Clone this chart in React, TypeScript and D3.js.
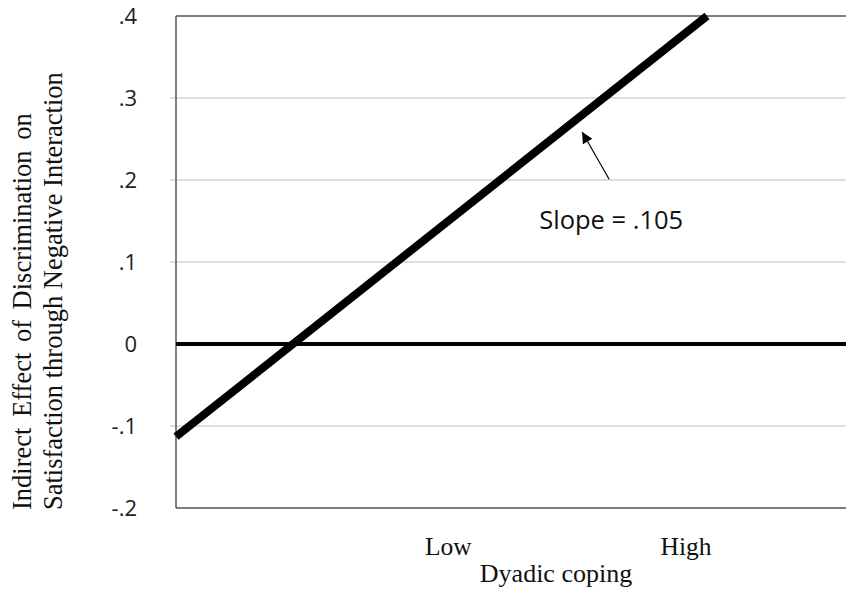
import React from 'react';
import * as d3 from 'd3';

// values
const yTicks = [-0.2, -0.1, 0, 0.1, 0.2, 0.3, 0.4];
const yTickLabels = ['-.2', '-.1', '0', '.1', '.2', '.3', '.4'];
const gridValues = [-0.1, 0.1, 0.2, 0.3];
const xCategories = ['Low', 'High'];
const xCategoryValues = [-1, 1];
const lineX = [-3.29, 1.176];
const lineY = [-0.113, 0.4];
const arrowFrom = [0.353, 0.201];
const arrowTo = [0.126, 0.2585];
const slopeLabel = 'Slope = .105';
const slopeLabelAt = [-0.235, 0.14];
const yTitle = ['Indirect Effect of Discrimination on', 'Satisfaction through Negative Interaction'];
const xTitle = 'Dyadic coping';

const W = 846;
const H = 598;
const margin = { top: 16, right: 0, bottom: 90, left: 176 };

const App = () => {
  const x = d3.scaleLinear().domain([-3.29, 2.345]).range([margin.left, W - margin.right]);
  const y = d3.scaleLinear().domain([-0.2, 0.4]).range([H - margin.bottom, margin.top]);

  const line = d3.line<number>()
    .x((d, i) => x(lineX[i]))
    .y((d) => y(d));

  const serif = '"Liberation Serif", "Times New Roman", serif';
  const sans = '"Open Sans", "Noto Sans", sans-serif';
  const x0 = x.range()[0];
  const x1 = x.range()[1];

  return (
    <svg width={W} height={H} style={{ position: 'absolute', left: 0, top: 0, background: '#fff' }}>
      <defs>
        <marker id="ah" viewBox="0 0 10 10" refX="10" refY="5" markerWidth="14" markerHeight="11"
          markerUnits="userSpaceOnUse" orient="auto">
          <path d="M0,0 L10,5 L0,10 Z" fill="#000" />
        </marker>
      </defs>

      {gridValues.map((v) => (
        <line key={v} x1={x0 - 6} x2={x1} y1={y(v)} y2={y(v)} stroke="#d4d4d4" strokeWidth={1.5} />
      ))}

      {/* frame */}
      <line x1={x0} x2={x1} y1={y(0.4)} y2={y(0.4)} stroke="#555" strokeWidth={1.5} />
      <line x1={x0} x2={x1} y1={y(-0.2)} y2={y(-0.2)} stroke="#555" strokeWidth={1.5} />
      <line x1={x0} x2={x0} y1={y(0.4)} y2={y(-0.2)} stroke="#555" strokeWidth={1.5} />

      {/* zero line */}
      <line x1={x0} x2={x1} y1={y(0)} y2={y(0)} stroke="#000" strokeWidth={4} />

      <path d={line(lineY) || ''} fill="none" stroke="#000" strokeWidth={8} />

      {yTicks.map((t, i) => (
        <text key={t} x={137} y={y(t)} dy="0.35em" textAnchor="end" fontFamily={sans} fontSize={22} fill="#222">
          {yTickLabels[i]}
        </text>
      ))}

      {xCategories.map((c, i) => (
        <text key={c} x={x(xCategoryValues[i])} y={555} textAnchor="middle" fontFamily={serif} fontSize={25.5} fill="#111">
          {c}
        </text>
      ))}
      <text x={556} y={582} textAnchor="middle" fontFamily={serif} fontSize={26} fill="#111">{xTitle}</text>

      {yTitle.map((t, i) => (
        <text key={t} transform={`translate(${31 + i * 31},510) rotate(-90)`} textAnchor="start"
          fontFamily={serif} fontSize={26.5} wordSpacing={i === 0 ? 4 : 0} fill="#111">
          {t}
        </text>
      ))}

      <line x1={x(arrowFrom[0])} y1={y(arrowFrom[1])} x2={x(arrowTo[0])} y2={y(arrowTo[1])}
        stroke="#000" strokeWidth={1.2} markerEnd="url(#ah)" />
      <text x={x(slopeLabelAt[0])} y={y(slopeLabelAt[1])} fontFamily={sans} fontSize={25.5} fill="#111">
        {slopeLabel}
      </text>
    </svg>
  );
};

export default App;
